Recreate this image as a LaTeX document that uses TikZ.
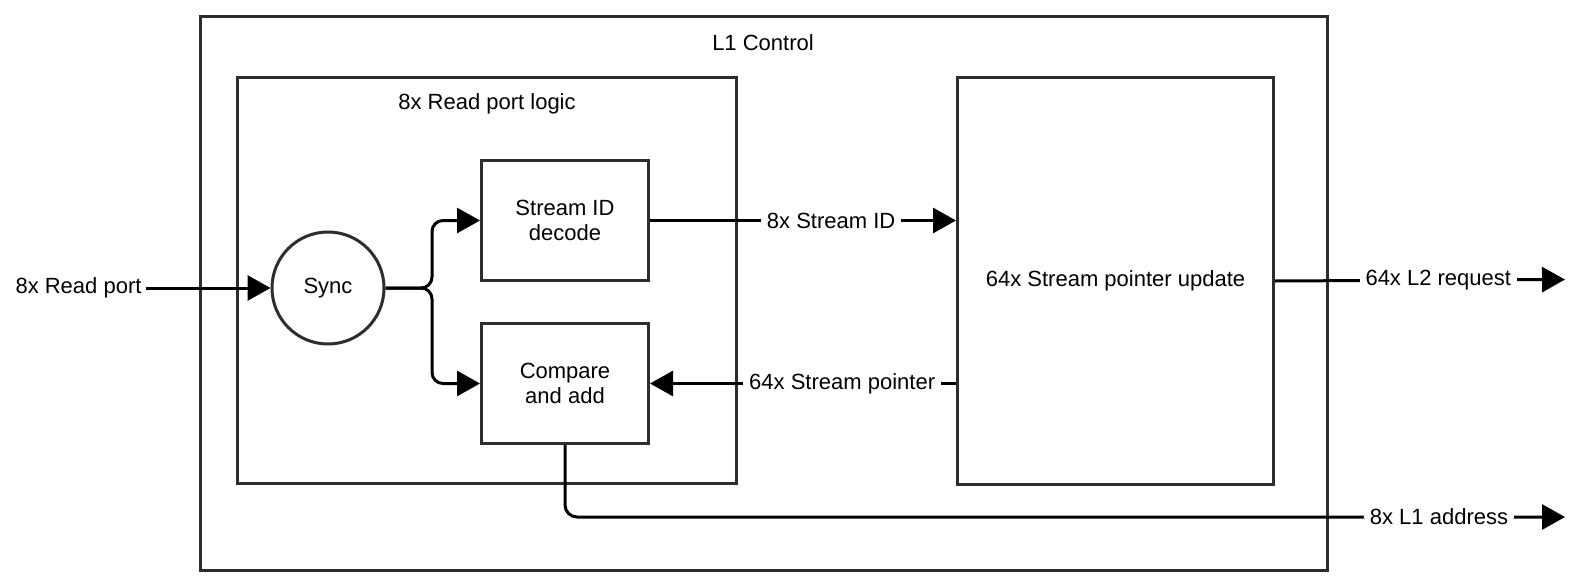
\documentclass[tikz,border=0pt]{standalone}
\usepackage{fontspec}
\setmainfont{Liberation Sans}
\usetikzlibrary{arrows.meta,calc}
\definecolor{boxcol}{RGB}{45,45,45}
\begin{document}
\begin{tikzpicture}[x=1pt,y=-1pt,
  font=\fontsize{22}{25}\selectfont,
  box/.style={draw=boxcol,line width=3pt,rectangle,anchor=north west,inner sep=0pt},
  conn/.style={draw=black,line width=3pt,-{Triangle[length=23pt,width=25pt]}},
  lbl/.style={fill=white,inner xsep=6pt,inner ysep=2pt},
  txt/.style={inner sep=0pt,align=center}]
\useasboundingbox (0,0) rectangle (1578,588);
\fill[white] (0,0) rectangle (1578,588);
% boxes
\node[box,minimum width=1127pt,minimum height=554pt] (outer) at (199,15) {};
\node[txt] (outerlbl) at (763,43) {L1 Control};
\node[box,minimum width=499pt,minimum height=406pt] (rpl) at (236,76) {};
\node[txt] (rpllbl) at (487,104) {8x Read port logic};
\node[box,minimum width=167pt,minimum height=120pt] (sid) at (480,159) {};
\node[txt] (sidlbl) at (sid.center) {Stream ID\\decode};
\node[box,minimum width=167pt,minimum height=120pt] (cmp) at (480,322) {};
\node[txt] (cmplbl) at (cmp.center) {Compare\\and add};
\node[box,minimum width=316pt,minimum height=407pt] (spu) at (956,76) {};
\node[txt] (spulbl) at (spu.center) {64x Stream pointer update};
\node[draw=boxcol,line width=3pt,circle,minimum size=112pt,inner sep=0pt] (sync) at (328,288) {Sync};
% free ends
\node[inner xsep=4pt,inner ysep=0pt] (rp) at (78.5,288) {8x Read port};
\coordinate (br) at (432,288);
\coordinate (l2end) at (1565,279.5);
\coordinate (l1end) at (1565,517);
% connectors
\draw[conn] (rp.east) -- (sync.west);
\draw[conn,rounded corners=11pt] (sync.east) -- (br) |- (sid.west);
\draw[conn,rounded corners=11pt] (sync.east) -- (br) |- (cmp.west);
\draw[conn] (sid.east) -- (sid.east -| spu.west) node[lbl,pos=0.592] (sidtag) {8x Stream ID};
\draw[conn] (cmp.east -| spu.west) -- (cmp.east) node[lbl,pos=0.372] (sptag) {64x Stream pointer};
\draw[conn] (spu.east) -- (l2end) node[lbl,pos=0.563] (l2tag) {64x L2 request};
\draw[conn,rounded corners=12pt] (cmp.south) |- (l1end) node[lbl,pos=0.937] (l1tag) {8x L1 address};
\end{tikzpicture}
\end{document}
